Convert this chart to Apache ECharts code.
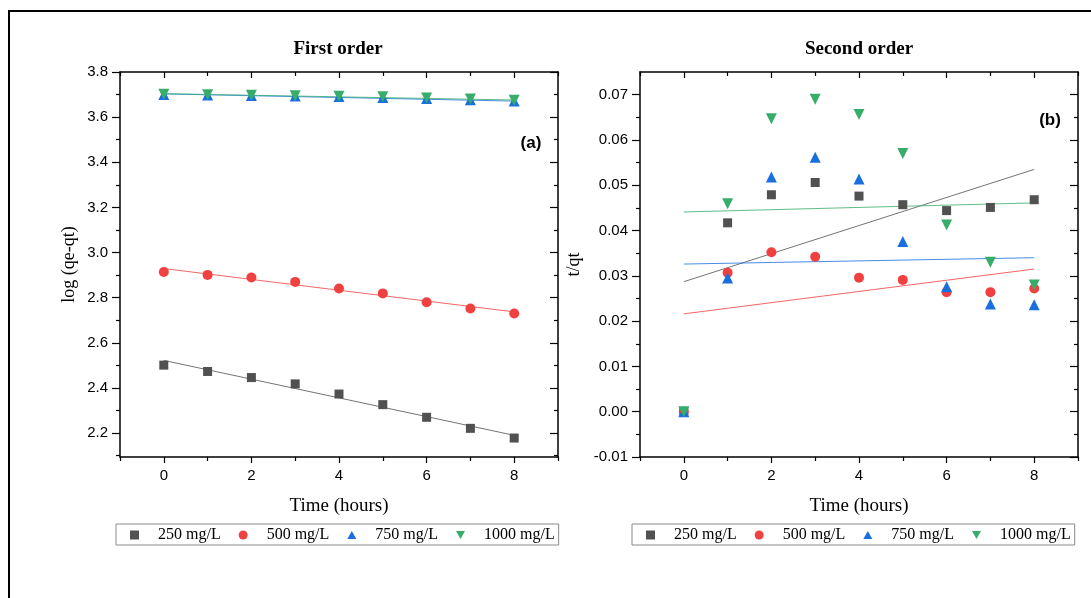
<!DOCTYPE html>
<html>
<head>
<meta charset="utf-8">
<script src="https://cdn.jsdelivr.net/npm/echarts@6/dist/echarts.min.js"></script>
<style>
html,body{margin:0;padding:0;background:#fff;}
#chart{width:1091px;height:598px;}
</style>
</head>
<body>
<div id="chart"></div>
<script>
// time (hours)
var hours = [0, 1, 2, 3, 4, 5, 6, 7, 8];
var seriesNames = ['250 mg/L', '500 mg/L', '750 mg/L', '1000 mg/L'];

// (a) first order : log (qe-qt)
var first250  = [2.501, 2.473, 2.446, 2.418, 2.373, 2.326, 2.270, 2.221, 2.178];
var first500  = [2.914, 2.901, 2.889, 2.870, 2.841, 2.819, 2.780, 2.752, 2.730];
var first750  = [3.700, 3.698, 3.696, 3.694, 3.691, 3.687, 3.683, 3.677, 3.671];
var first1000 = [3.701, 3.699, 3.697, 3.695, 3.693, 3.690, 3.685, 3.680, 3.675];

// (b) second order : t/qt
var second250  = [0, 0.0417, 0.0479, 0.0506, 0.0476, 0.0457, 0.0444, 0.0451, 0.0468];
var second500  = [0, 0.0307, 0.0352, 0.0342, 0.0296, 0.0291, 0.0264, 0.0264, 0.0272];
var second750  = [0, 0.0295, 0.0518, 0.0562, 0.0514, 0.0376, 0.0276, 0.0238, 0.0236];
var second1000 = [0, 0.0459, 0.0647, 0.0690, 0.0656, 0.0570, 0.0412, 0.0330, 0.0280];

// fitted lines, value at first and last hour
var fitHours = [0, 8];
var fitFirst250  = [2.522, 2.190];
var fitFirst500  = [2.929, 2.737];
var fitFirst750  = [3.703, 3.671];
var fitFirst1000 = [3.704, 3.676];
var fitSecond250  = [0.0287, 0.0535];
var fitSecond500  = [0.0216, 0.0315];
var fitSecond750  = [0.0326, 0.0340];
var fitSecond1000 = [0.0441, 0.0461];

// ticks
var xMajor = [0, 2, 4, 6, 8];
var xMinor = [-1, 1, 3, 5, 7, 9];
var yMajorA = [2.2, 2.4, 2.6, 2.8, 3.0, 3.2, 3.4, 3.6, 3.8];
var yMinorA = [2.1, 2.3, 2.5, 2.7, 2.9, 3.1, 3.3, 3.5, 3.7];
var yMajorB = [-0.01, 0, 0.01, 0.02, 0.03, 0.04, 0.05, 0.06, 0.07];
var yMinorB = [-0.005, 0.005, 0.015, 0.025, 0.035, 0.045, 0.055, 0.065];

var colors = ['#515151', '#F14040', '#1A6FDF', '#37AD6B'];
var symbols = ['rect', 'circle', 'triangle', 'triangle'];
var rotates = [0, 0, 0, 180];
var sizes = [9, 10, 11, 11];
// legend icons (down triangle as a path, legend does not rotate it)
var legendIcons = ['rect', 'circle', 'path://M5,0L10,8.66L0,8.66Z', 'path://M0,0L10,0L5,8.66Z'];

var serif = 'Liberation Serif';
var sans = 'Liberation Sans';

function pairs(xs, ys) {
	return xs.map(function (x, i) { return [x, ys[i]]; });
}

// one side of a frame: long ticks with labels + short minor ticks
function axisPair(grid, pos, min, max, major, minor, digits, inside, opt) {
	var vertical = pos === 'left' || pos === 'right';
	var main = {
		type: 'value', gridIndex: grid, position: pos, min: min, max: max,
		axisLine: { show: true, onZero: false, lineStyle: { color: '#000', width: 1.5 } },
		splitLine: { show: false },
		axisTick: { show: true, inside: inside, customValues: major, length: vertical ? 8 : 6, lineStyle: { color: '#000', width: 1.2 } },
		axisLabel: inside ? { show: false } : {
			customValues: major, color: '#000', fontFamily: sans, fontSize: 15, margin: vertical ? 12 : 11,
			formatter: function (v) { return v.toFixed(digits); }
		}
	};
	if (opt) { for (var k in opt) main[k] = opt[k]; }
	var small = {
		type: 'value', gridIndex: grid, position: pos, min: min, max: max,
		axisLine: { show: false, onZero: false },
		splitLine: { show: false },
		axisTick: { show: true, inside: inside, customValues: minor, length: 4, lineStyle: { color: '#000', width: 1.2 } },
		axisLabel: { show: false }
	};
	return [main, small];
}

var xName = {
	name: 'Time (hours)', nameLocation: 'middle', nameGap: 40,
	nameTextStyle: { fontFamily: serif, fontSize: 19, color: '#000' }
};

var xAxes = [].concat(
	axisPair(0, 'bottom', -1, 9, xMajor, xMinor, 0, false, xName),
	axisPair(0, 'top', -1, 9, xMajor, xMinor, 0, true),
	axisPair(1, 'bottom', -1, 9, xMajor, xMinor, 0, false, xName),
	axisPair(1, 'top', -1, 9, xMajor, xMinor, 0, true)
);
var yAxes = [].concat(
	axisPair(0, 'left', 2.094, 3.8, yMajorA, yMinorA, 1, false, {
		name: 'log (qe-qt)', nameLocation: 'middle', nameGap: 42,
		nameTextStyle: { fontFamily: serif, fontSize: 18, color: '#000' }
	}),
	axisPair(0, 'right', 2.094, 3.8, yMajorA, yMinorA, 1, true),
	axisPair(1, 'left', -0.01, 0.075, yMajorB, yMinorB, 2, false, {
		name: 't/qt', nameLocation: 'middle', nameGap: 57,
		nameTextStyle: { fontFamily: serif, fontSize: 18, color: '#000' }
	}),
	axisPair(1, 'right', -0.01, 0.075, yMajorB, yMinorB, 2, true)
);

var firstData = [first250, first500, first750, first1000];
var secondData = [second250, second500, second750, second1000];
var firstFits = [fitFirst250, fitFirst500, fitFirst750, fitFirst1000];
var secondFits = [fitSecond250, fitSecond500, fitSecond750, fitSecond1000];

var series = [];
function addPanel(data, fits, xi, yi) {
	fits.forEach(function (f, i) {
		series.push({
			name: 'fit ' + seriesNames[i], type: 'line', xAxisIndex: xi, yAxisIndex: yi,
			data: pairs(fitHours, f), symbol: 'none', silent: true,
			lineStyle: { color: colors[i], width: 1, opacity: 0.8 }, z: 2
		});
	});
	data.forEach(function (d, i) {
		series.push({
			name: seriesNames[i], type: 'scatter', xAxisIndex: xi, yAxisIndex: yi,
			data: pairs(hours, d), symbol: symbols[i], symbolRotate: rotates[i], symbolSize: sizes[i],
			itemStyle: { color: colors[i], opacity: 1 }, z: 3
		});
	});
}
addPanel(firstData, firstFits, 0, 0);
addPanel(secondData, secondFits, 4, 4);

function legendAt(left) {
	return {
		data: seriesNames.map(function (n, i) { return { name: n, icon: legendIcons[i] }; }),
		left: left, top: 524, orient: 'horizontal',
		itemWidth: 9, itemHeight: 9, itemGap: 18,
		padding: [3, 4, 2, 14], borderColor: '#8a8a8a', borderWidth: 1,
		formatter: function (n) { return '{t|' + n + '}'; },
		textStyle: {
			fontFamily: serif, fontSize: 16, color: '#000',
			rich: { t: { fontFamily: serif, fontSize: 16, color: '#000', padding: [0, 0, 0, 14] } }
		},
		selectedMode: false
	};
}

var chart = echarts.init(document.getElementById('chart'));
chart.setOption({
	animation: false,
	backgroundColor: '#fff',
	grid: [
		{ left: 120, right: 533, top: 72, bottom: 141, outerBoundsMode: 'none' },
		{ left: 640, right: 13, top: 72, bottom: 141, outerBoundsMode: 'none' }
	],
	xAxis: xAxes,
	yAxis: yAxes,
	legend: [legendAt(116), legendAt(632)],
	graphic: [
		{ type: 'rect', shape: { x: 9, y: 11, width: 1200, height: 700 }, style: { fill: 'none', stroke: '#000', lineWidth: 2 }, silent: true },
		{ type: 'text', x: 338, y: 49, style: { text: 'First order', align: 'center', verticalAlign: 'middle', font: 'bold 19px "Liberation Serif"', fill: '#000' } },
		{ type: 'text', x: 859, y: 49, style: { text: 'Second order', align: 'center', verticalAlign: 'middle', font: 'bold 19px "Liberation Serif"', fill: '#000' } },
		{ type: 'text', x: 531, y: 143, style: { text: '(a)', align: 'center', verticalAlign: 'middle', font: 'bold 17px "Liberation Sans"', fill: '#000' } },
		{ type: 'text', x: 1050, y: 120, style: { text: '(b)', align: 'center', verticalAlign: 'middle', font: 'bold 17px "Liberation Sans"', fill: '#000' } }
	],
	series: series
});
</script>
</body>
</html>
